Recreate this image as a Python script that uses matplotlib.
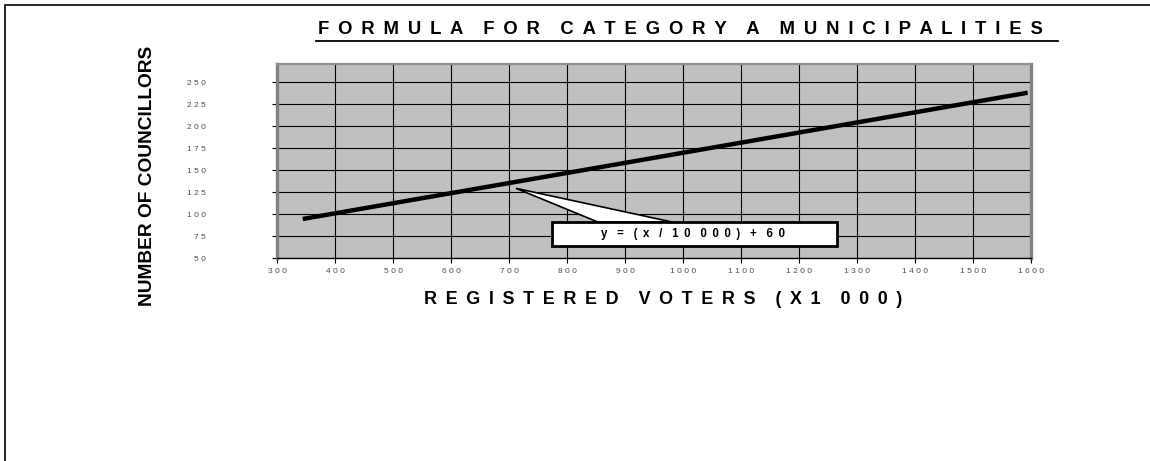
import matplotlib.pyplot as plt
from matplotlib.patches import Rectangle, Polygon
from matplotlib.lines import Line2D

plt.rcParams['font.family'] = ['Liberation Sans', 'DejaVu Sans']

# data
voters = [344, 1595]
councillors = [94.7, 238.2]
x_ticks = list(range(300, 1700, 100))
y_ticks = list(range(50, 275, 25))

title = 'FORMULA FOR CATEGORY A MUNICIPALITIES'
xlabel = 'REGISTERED VOTERS (X1 000)'
ylabel = 'NUMBER OF COUNCILLORS'
formula = 'y = (x / 10 000) + 60'


def spaced(s, sep=' ', word='   '):
    return word.join(sep.join(w) for w in s.split(' '))


fig = plt.figure(figsize=(11.5, 4.61), dpi=100)
ax = fig.add_axes([0.2411, 0.4397, 0.6551, 0.4208])
ax.set_facecolor('#c0c0c0')

ax.plot(voters, councillors, color='black', lw=3.2, solid_capstyle='butt', zorder=3)

ax.set_xlim(300, 1600)
ax.set_ylim(50, 270.5)
ax.set_xticks(x_ticks)
ax.set_yticks(y_ticks)
ax.set_xticklabels([spaced(str(t)) for t in x_ticks], fontsize=6, color='#4d4d4d')
ax.set_yticklabels([spaced(str(t)) for t in y_ticks], fontsize=6, color='#4d4d4d')
ax.tick_params(axis='x', direction='out', length=3.6, width=0.8, pad=3.5)
ax.tick_params(axis='y', direction='out', length=3.6, width=0.8, pad=48)
ax.grid(True, color='black', lw=0.8, zorder=1)
ax.set_axisbelow(True)

for side in ['left', 'right']:
    ax.spines[side].set_color('#808080')
    ax.spines[side].set_linewidth(2.4)
ax.spines['top'].set_color('#909090')
ax.spines['top'].set_linewidth(1.6)
ax.spines['bottom'].set_color('black')
ax.spines['bottom'].set_linewidth(1.0)

# callout
wedge = Polygon([(712, 129.5), (853, 91.3), (981, 91.3)], closed=True,
                facecolor='white', edgecolor='black', lw=1.2, zorder=4)
ax.add_patch(wedge)
box = Rectangle((774, 63.5), 492, 28.0, facecolor='white', edgecolor='black',
                lw=2.0, zorder=5)
ax.add_patch(box)
ax.text(1017, 77.5, spaced(formula, sep=' \u2009', word='   '), fontsize=8.3,
        fontweight='bold', ha='center', va='center', zorder=6)

fig.text(680 / 1150, 1 - 29 / 461, spaced(title, sep=' \u2009', word='    '),
         fontsize=13.3, fontweight='bold', ha='center', va='center')
fig.add_artist(Line2D([316 / 1150, 1058 / 1150], [1 - 41 / 461, 1 - 41 / 461],
                      color='black', lw=1.3))
fig.text(663 / 1150, 1 - 299 / 461, spaced(xlabel, sep=' \u2009', word='    '),
         fontsize=12.9, fontweight='bold', ha='center', va='center')
fig.text(147 / 1150, 1 - 176 / 461, ylabel, fontsize=13.8,
         fontweight='bold', rotation=90, ha='center', va='center')

fig.add_artist(Rectangle((5 / 1150, -0.1), 1.2, 1 - 5.5 / 461 + 0.1, transform=fig.transFigure,
                         fill=False, edgecolor='black', lw=1.2))

fig.savefig('out.png', dpi=100)
